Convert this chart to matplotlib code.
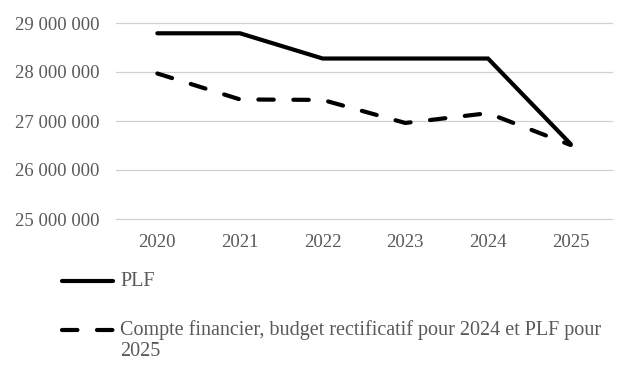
import matplotlib
matplotlib.use("Agg")
import matplotlib.pyplot as plt
from matplotlib.lines import Line2D
from matplotlib.ticker import FuncFormatter

years = ["2020", "2021", "2022", "2023", "2024", "2025"]
plf = [28790000, 28790000, 28275000, 28275000, 28275000, 26530000]
compte = [27970000, 27440000, 27430000, 26960000, 27160000, 26510000]
yticks = [25000000, 26000000, 27000000, 28000000, 29000000]

label_plf = "PLF"
label_compte = "Compte financier, budget rectificatif pour 2024 et PLF pour\n2025"

plt.rcParams['font.family'] = ['Liberation Serif', 'DejaVu Serif']
grey = '#595959'
lw = 3.0
dash = (3.7, 4.7)

fig = plt.figure(figsize=(6.35, 3.72), dpi=100)
ax = fig.add_axes([116 / 635, 1 - 219 / 372, 496 / 635, 196 / 372])

x = list(range(len(years)))
ax.plot(x, plf, color='black', lw=lw, solid_capstyle='round',
        solid_joinstyle='miter')
ax.plot(x, compte, color='black', lw=lw, dashes=dash,
        dash_capstyle='round')

ax.set_xlim(-0.5, len(years) - 0.5)
ax.set_ylim(yticks[0], yticks[-1])
ax.set_yticks(yticks)
ax.yaxis.set_major_formatter(
    FuncFormatter(lambda v, p: f"{v:,.0f}".replace(",", " ")))
ax.set_xticks(x)
ax.set_xticklabels(years)
ax.tick_params(length=0, labelsize=13.5, colors=grey)
ax.tick_params(axis='x', pad=11)
ax.tick_params(axis='y', pad=12)
ax.grid(axis='y', color='#d0d0d0', lw=0.9)
for gl in ax.get_ygridlines():
    gl.set_clip_on(False)
ax.set_axisbelow(True)
for s in ax.spines.values():
    s.set_visible(False)

# legend drawn by hand (handle aligned with first line of text)
fig.add_artist(Line2D([62 / 635, 113 / 635], [1 - 281 / 372] * 2,
                      color='black', lw=lw, solid_capstyle='round'))
fig.add_artist(Line2D([62 / 635, 113 / 635], [1 - 330 / 372] * 2,
                      color='black', lw=lw, dashes=dash,
                      dash_capstyle='round'))
fig.text(120 / 635, 1 - 281 / 372, label_plf, fontsize=14.5, color=grey,
         va='center')
for i, line in enumerate(label_compte.split("\n")):
    fig.text(120 / 635, 1 - (330 + 22 * i) / 372, line, fontsize=14.5,
             color=grey, va='center')

fig.savefig("out.png", dpi=100)
